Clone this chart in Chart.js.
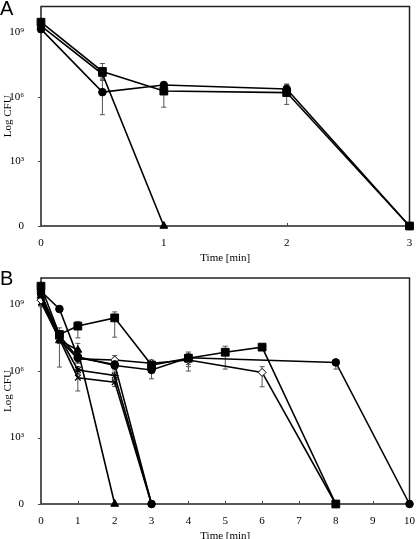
<!DOCTYPE html>
<html>
<head>
<meta charset="utf-8">
<script src="https://cdn.jsdelivr.net/npm/chart.js@4"></script>
<style>
  body { margin: 0; background: #fff; }
  .wrap { position: relative; width: 416px; height: 539px; overflow: hidden; }
  canvas { position: absolute; left: 0; }
  .tag { position: absolute; left: 0; font-family: "Liberation Sans", sans-serif; font-size: 20px; color: #000; }
</style>
</head>
<body>
<div class="wrap">
  <canvas id="chartA" width="416" height="267" style="top:0"></canvas>
  <canvas id="chartB" width="416" height="275" style="top:270px"></canvas>
  <div class="tag" style="top:-3px">A</div>
  <div class="tag" style="top:267px">B</div>
</div>
<script>
// --- data (log10 CFU vs time in minutes) ---
const yTickValues = [0, 3, 6, 9];
const yTickLabels = ['0', '10³', '10⁶', '10⁹'];

// panel A
const aTimeLong = [0, 0.5, 1, 2, 3];
const aTimeShort = [0, 0.5, 1];
const aSquare = [9.47, 7.18, 6.27, 6.2, 0];
const aSquareUp = [0.1, 0.37, 0.25, 0.4, 0];
const aSquareDown = [0.1, 0.3, 0.75, 0.55, 0];
const aCircle = [9.15, 6.22, 6.55, 6.37, 0];
const aCircleUp = [0.1, 0.6, 0.15, 0.2, 0];
const aCircleDown = [0.1, 1.05, 0.15, 0.2, 0];
const aTriangle = [9.3, 7.06, 0];
const aTriangleUp = [0.1, 0.3, 0];
const aTriangleDown = [0.1, 0.3, 0];

// panel B
const bTimeSquare = [0, 0.5, 1, 2, 3, 4, 5, 6, 8];
const bSquare = [9.83, 7.65, 8.03, 8.4, 6.27, 6.58, 6.85, 7.08, 0];
const bSquareUp = [0.1, 0.3, 0.21, 0.27, 0.15, 0.28, 0.27, 0.1, 0];
const bSquareDown = [0.1, 0.3, 0.53, 0.87, 0.15, 0.58, 0.76, 0.1, 0];

const bTimeCircle = [0, 0.5, 1, 2, 3, 4, 8, 10];
const bCircle = [9.6, 8.8, 6.64, 6.25, 6.05, 6.6, 6.39, 0];
const bCircleUp = [0.1, 0.1, 0.2, 0.2, 0.15, 0.2, 0.1, 0];
const bCircleDown = [0.1, 0.1, 0.2, 0.2, 0.4, 0.3, 0.3, 0];

const bTimeDiamond = [0, 0.5, 1, 2, 3, 4, 6, 8];
const bDiamond = [9.2, 7.45, 6.55, 6.5, 6.35, 6.5, 5.94, 0];
const bDiamondUp = [0.2, 0.2, 0.2, 0.2, 0.15, 0.2, 0.26, 0];
const bDiamondDown = [0.3, 0.2, 0.2, 0.2, 0.15, 0.3, 0.65, 0];

const bTimeTriangle = [0, 0.5, 1, 2];
const bTriangle = [9.4, 7.38, 6.95, 0];
const bTriangleUp = [0.1, 0.2, 0.3, 0];
const bTriangleDown = [0.1, 1.2, 0.3, 0];

const bTimeShort = [0, 0.5, 1, 2, 3];
const bDot = [9.5, 7.6, 6.6, 6.3, 0];
const bDotUp = [0.1, 0.2, 0.2, 0.15, 0];
const bDotDown = [0.1, 0.2, 0.2, 0.15, 0];
const bStar = [9.3, 7.55, 6.05, 5.8, 0];
const bStarUp = [0.1, 0.2, 0.15, 0.15, 0];
const bStarDown = [0.1, 0.2, 0.15, 0.2, 0];
const bCross = [9.1, 7.45, 5.7, 5.5, 0];
const bCrossUp = [0.1, 0.2, 0.15, 0.15, 0];
const bCrossDown = [0.1, 0.2, 0.6, 0.2, 0];

const serif = "'Liberation Serif', 'Times New Roman', serif";

function pts(times, vals) {
    return times.map((t, i) => ({ x: t, y: vals[i] }));
}

function series(times, vals, up, down, style) {
    return Object.assign({
        data: pts(times, vals),
        errUp: up,
        errDown: down,
        clip: false,
        borderColor: '#000',
        borderWidth: 1.6,
        backgroundColor: '#000',
        pointBorderColor: '#000',
        pointBorderWidth: 1,
        pointRadius: 4,
        tension: 0
    }, style);
}

const SQUARE = { pointStyle: 'rect', pointRadius: 5.5 };
const CIRCLE = { pointStyle: 'circle', pointRadius: 3.8 };
const TRIANGLE = { pointStyle: 'triangle', pointRadius: 4.5 };
const DIAMOND = { pointStyle: 'rectRot', pointRadius: 4, pointBackgroundColor: '#fff' };
const STAR = { pointStyle: 'star', pointRadius: 4, pointBorderWidth: 1.2 };
const CROSS = { pointStyle: 'crossRot', pointRadius: 4, pointBorderWidth: 1.2 };

// error bars, drawn through the chart's own scales
const errorBars = {
    id: 'errorBars',
    beforeDatasetsDraw(chart) {
        const { ctx, scales: { x, y } } = chart;
        ctx.save();
        ctx.strokeStyle = '#555';
        ctx.lineWidth = 1;
        chart.data.datasets.forEach(ds => {
            ds.data.forEach((p, i) => {
                const u = ds.errUp[i], d = ds.errDown[i];
                if (!u && !d) return;
                const px = x.getPixelForValue(p.x);
                const top = y.getPixelForValue(p.y + u);
                const bot = y.getPixelForValue(p.y - d);
                ctx.beginPath();
                ctx.moveTo(px, top); ctx.lineTo(px, bot);
                ctx.moveTo(px - 2.5, top); ctx.lineTo(px + 2.5, top);
                ctx.moveTo(px - 2.5, bot); ctx.lineTo(px + 2.5, bot);
                ctx.stroke();
            });
        });
        ctx.restore();
    }
};

// plot frame with small tick marks, drawn under the marks
const frame = {
    id: 'frame',
    beforeDatasetsDraw(chart) {
        const { ctx, chartArea: a, scales: { x, y } } = chart;
        ctx.save();
        ctx.strokeStyle = '#222';
        ctx.lineWidth = 1.5;
        ctx.strokeRect(a.left, a.top, a.right - a.left, a.bottom - a.top);
        ctx.lineWidth = 1;
        ctx.strokeStyle = '#444';
        ctx.beginPath();
        x.ticks.forEach(t => {
            const px = Math.round(x.getPixelForValue(t.value)) + 0.5;
            ctx.moveTo(px, a.bottom); ctx.lineTo(px, a.bottom - 3);
        });
        y.ticks.forEach(t => {
            const py = Math.round(y.getPixelForValue(t.value)) + 0.5;
            ctx.moveTo(a.left, py); ctx.lineTo(a.left - 3, py);
        });
        ctx.stroke();
        ctx.restore();
    }
};

function makeChart(id, datasets, xMax, top, bottom, canvasH) {
    return new Chart(document.getElementById(id), {
        type: 'line',
        data: { datasets },
        options: {
            responsive: false,
            animation: false,
            layout: { padding: { top: top, right: 3, left: 0, bottom: 0 } },
            plugins: { legend: { display: false }, tooltip: { enabled: false } },
            scales: {
                x: {
                    type: 'linear',
                    min: 0,
                    max: xMax,
                    grid: { display: false },
                    border: { display: false },
                    ticks: { stepSize: 1, padding: 3, color: '#000', font: { family: serif, size: 11 } },
                    title: { display: true, text: 'Time [min]', color: '#000', padding: { top: 0, bottom: 2 }, font: { family: serif, size: 11 } },
                    afterFit: s => { s.height = canvasH - bottom; s.paddingLeft = 0; s.paddingRight = 0; }
                },
                y: {
                    type: 'linear',
                    min: 0,
                    max: 10.2,
                    grid: { display: false },
                    border: { display: false },
                    afterBuildTicks: s => { s.ticks = yTickValues.map(v => ({ value: v })); },
                    ticks: {
                        padding: 9,
                        color: '#000',
                        font: { family: serif, size: 11 },
                        callback: v => yTickLabels[yTickValues.indexOf(v)]
                    },
                    title: { display: true, text: 'Log CFU', color: '#000', padding: { top: 2, bottom: 0 }, font: { family: serif, size: 11 } },
                    afterFit: s => { s.width = 41; s.paddingTop = 0; s.paddingBottom = 0; }
                }
            }
        },
        plugins: [frame, errorBars]
    });
}

// first dataset is drawn on top
makeChart('chartA', [
    series(aTimeLong, aSquare, aSquareUp, aSquareDown, SQUARE),
    series(aTimeLong, aCircle, aCircleUp, aCircleDown, CIRCLE),
    series(aTimeShort, aTriangle, aTriangleUp, aTriangleDown, TRIANGLE)
], 3, 3, 226, 267);

makeChart('chartB', [
    series(bTimeSquare, bSquare, bSquareUp, bSquareDown, SQUARE),
    series(bTimeCircle, bCircle, bCircleUp, bCircleDown, CIRCLE),
    series(bTimeShort, bDot, bDotUp, bDotDown, CIRCLE),
    series(bTimeTriangle, bTriangle, bTriangleUp, bTriangleDown, TRIANGLE),
    series(bTimeDiamond, bDiamond, bDiamondUp, bDiamondDown, DIAMOND),
    series(bTimeShort, bStar, bStarUp, bStarDown, STAR),
    series(bTimeShort, bCross, bCrossUp, bCrossDown, CROSS)
], 10, 8, 234, 275);
</script>
</body>
</html>
